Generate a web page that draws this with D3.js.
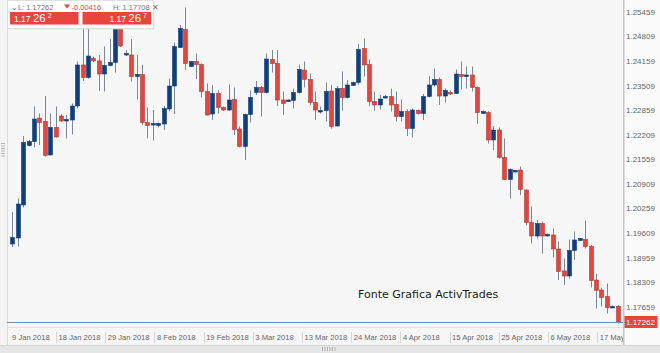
<!DOCTYPE html>
<html lang="en">

<head>
    <meta charset="UTF-8">
    <title>EURUSD daily</title>
    <style>
        body {
            margin: 0;
            background: #fff;
        }

        text {
            font-family: "Liberation Sans", Arial, sans-serif;
        }

        .axis-label {
            font-size: 8px;
            fill: #666;
        }

        .date-label {
            font-size: 7.6px;
            fill: #666;
        }
    </style>
</head>

<body>
    <svg width="660" height="353"></svg>
    <script src="https://d3js.org/d3.v7.min.js"></script>
    <script>
        // daily candles, 9 Jan 2018 -> 17 May 2018
        let open = [
            1.19324, 1.19483, 1.20356, 1.21929, 1.22034, 1.22655, 1.22563, 1.21678, 1.22405, 1.22708,
            1.22590, 1.22603, 1.22973, 1.24058, 1.23727, 1.24229, 1.24164, 1.23819, 1.24045, 1.24124,
            1.25194, 1.24322, 1.24322, 1.23753, 1.23806, 1.22537, 1.22471, 1.22458, 1.22497, 1.22894,
            1.23502, 1.24520, 1.24996, 1.24018, 1.24150, 1.24071, 1.23356, 1.22761, 1.23303, 1.22934,
            1.22867, 1.23145, 1.22365, 1.21902, 1.22748, 1.23330, 1.23463, 1.23330, 1.24203, 1.24097,
            1.23132, 1.23092, 1.23119, 1.23330, 1.23925, 1.23674, 1.23066, 1.22814, 1.22854, 1.23370,
            1.22444, 1.23436, 1.23198, 1.23516, 1.23595, 1.24493, 1.24071, 1.23092, 1.23000, 1.23198,
            1.23224, 1.23013, 1.22695, 1.22827, 1.22378, 1.22854, 1.22774, 1.23224, 1.23529, 1.23674,
            1.23237, 1.23330, 1.23303, 1.23806, 1.23753, 1.23793, 1.23463, 1.22774, 1.22801, 1.22074,
            1.22339, 1.21612, 1.21030, 1.21228, 1.21281, 1.20752, 1.19893, 1.19536, 1.19866, 1.19550,
            1.19563, 1.19192, 1.18611, 1.18478, 1.19153, 1.19417, 1.19444, 1.19258, 1.18372, 1.18108,
            1.17936, 1.17646, 1.17678];

        let high = [
            1.20170, 1.20527, 1.22180, 1.22074, 1.22960, 1.22774, 1.23237, 1.22774, 1.22960, 1.22761,
            1.22735, 1.23039, 1.24150, 1.25141, 1.25115, 1.24282, 1.24322, 1.24546, 1.24745, 1.25406,
            1.25353, 1.24454, 1.24745, 1.24322, 1.24058, 1.22934, 1.22867, 1.22537, 1.22973, 1.23700,
            1.24652, 1.25115, 1.25578, 1.24164, 1.24361, 1.24097, 1.23568, 1.23529, 1.23396, 1.22960,
            1.23542, 1.23463, 1.22431, 1.22774, 1.23383, 1.23635, 1.23502, 1.24361, 1.24454, 1.24454,
            1.23356, 1.23145, 1.23436, 1.24071, 1.24150, 1.23832, 1.23356, 1.22960, 1.23595, 1.23529,
            1.23502, 1.23885, 1.23661, 1.23621, 1.24612, 1.24758, 1.24203, 1.23356, 1.23264, 1.23264,
            1.23436, 1.23356, 1.23145, 1.22881, 1.22907, 1.22881, 1.23290, 1.23766, 1.23965, 1.23727,
            1.23436, 1.23383, 1.23939, 1.24150, 1.24018, 1.24018, 1.23489, 1.22854, 1.22841, 1.22444,
            1.22405, 1.22114, 1.21320, 1.21281, 1.21373, 1.20766, 1.20316, 1.19959, 1.19919, 1.19602,
            1.19734, 1.19390, 1.18941, 1.19444, 1.19655, 1.19483, 1.19946, 1.19298, 1.18531, 1.18174,
            1.18279, 1.17699, 1.17708];

        let low = [
            1.19245, 1.19258, 1.20290, 1.21902, 1.21876, 1.21942, 1.21638, 1.21665, 1.22141, 1.22550,
            1.22114, 1.22220, 1.22907, 1.23635, 1.23700, 1.24137, 1.23370, 1.23356, 1.24018, 1.23859,
            1.24533, 1.24295, 1.23621, 1.23145, 1.22471, 1.22114, 1.22061, 1.22405, 1.22339, 1.22827,
            1.22761, 1.24506, 1.23925, 1.24005, 1.23687, 1.23198, 1.22722, 1.22603, 1.22774, 1.22841,
            1.22841, 1.22207, 1.21876, 1.21545, 1.22537, 1.23264, 1.22695, 1.23303, 1.23859, 1.22973,
            1.22735, 1.23079, 1.22907, 1.23303, 1.23463, 1.23000, 1.22603, 1.22774, 1.22563, 1.22378,
            1.22431, 1.22854, 1.23171, 1.23502, 1.23529, 1.23753, 1.22973, 1.22854, 1.22881, 1.23171,
            1.22827, 1.22563, 1.22563, 1.22180, 1.22141, 1.22748, 1.22603, 1.23198, 1.23489, 1.23000,
            1.23066, 1.23264, 1.23290, 1.23410, 1.23436, 1.23356, 1.22497, 1.22761, 1.21981, 1.21810,
            1.21585, 1.21017, 1.20527, 1.21215, 1.20620, 1.19814, 1.19337, 1.19470, 1.19073, 1.19523,
            1.18968, 1.18372, 1.18240, 1.18412, 1.18901, 1.19404, 1.19205, 1.18174, 1.17619, 1.17672,
            1.17486, 1.17632, 1.17215];

        let close = [
            1.19497, 1.20382, 1.22008, 1.22034, 1.22629, 1.22537, 1.21665, 1.22405, 1.22154, 1.22577,
            1.22616, 1.22973, 1.24058, 1.23727, 1.24295, 1.24164, 1.23819, 1.24045, 1.24124, 1.25194,
            1.24559, 1.24361, 1.23753, 1.23806, 1.22537, 1.22458, 1.22510, 1.22510, 1.22907, 1.23502,
            1.24546, 1.25022, 1.24097, 1.24150, 1.24071, 1.23356, 1.22735, 1.23303, 1.22934, 1.22867,
            1.23132, 1.22352, 1.21902, 1.22748, 1.23198, 1.23463, 1.23330, 1.24216, 1.24097, 1.23132,
            1.23039, 1.23132, 1.23330, 1.23939, 1.23674, 1.23066, 1.22867, 1.22854, 1.23356, 1.22431,
            1.23436, 1.23198, 1.23529, 1.23595, 1.24467, 1.24058, 1.23092, 1.23000, 1.23158, 1.23224,
            1.23000, 1.22695, 1.22827, 1.22378, 1.22867, 1.22774, 1.23224, 1.23529, 1.23674, 1.23237,
            1.23383, 1.23290, 1.23819, 1.23753, 1.23793, 1.23463, 1.22801, 1.22827, 1.22074, 1.22339,
            1.21612, 1.21030, 1.21294, 1.21268, 1.20766, 1.19893, 1.19536, 1.19866, 1.19536, 1.19576,
            1.19192, 1.18597, 1.18478, 1.19153, 1.19430, 1.19470, 1.19258, 1.18359, 1.18095, 1.17910,
            1.17646, 1.17672, 1.17262];

        let priceTicks = [1.25459, 1.24809, 1.24159, 1.23509, 1.22859, 1.22209, 1.21559,
            1.20909, 1.20259, 1.19609, 1.18959, 1.18309, 1.17659];

        let dateLabels = ["9 Jan 2018", "18 Jan 2018", "29 Jan 2018", "8 Feb 2018", "19 Feb 2018",
            "3 Mar 2018", "13 Mar 2018", "24 Mar 2018", "4 Apr 2018", "15 Apr 2018",
            "25 Apr 2018", "6 May 2018", "17 May 2018"];
        // candle index where each date label starts
        let dateIdx = [-0.5, 8.1, 17.2, 26.3, 35.4, 44.5, 53.6, 62.7, 71.8, 80.9, 90.0, 99.1, 108.2];

        let lastPrice = 1.17262,
            sessionLow = "1.17262",
            sessionHigh = "1.17708",
            change = "-0.00416";

        let svg = d3.select("svg"),
            width = +svg.attr("width"),
            height = +svg.attr("height");

        let plotL = 7, plotR = 623, plotB = 327;

        let candles = open.map((o, i) => ({ i: i, o: o, h: high[i], l: low[i], c: close[i] }));

        let x = d3.scaleLinear().domain([0, candles.length - 1]).range([12.3, 617.7]);
        let y = d3.scaleLinear().domain([1.25776, 1.17050]).range([0, 330]);

        // backgrounds
        svg.append("rect").attr("width", width).attr("height", height).attr("fill", "#f4f4f4");
        svg.append("rect").attr("x", plotL).attr("y", 0).attr("width", plotR - plotL).attr("height", plotB)
            .attr("fill", "#f7f7f8");
        svg.append("rect").attr("x", plotR).attr("y", 0).attr("width", width - plotR).attr("height", 345)
            .attr("fill", "#fbfbfb");
        svg.append("line").attr("x1", plotL + 0.5).attr("x2", plotL + 0.5).attr("y1", 0).attr("y2", 345)
            .attr("stroke", "#dcdcdc");

        // left grip
        svg.append("g").selectAll("line").data(d3.range(6)).join("line")
            .attr("x1", 1).attr("x2", 5)
            .attr("y1", d => 143.5 + d * 2.5).attr("y2", d => 143.5 + d * 2.5)
            .attr("stroke", "#b5b5b5");

        // date axis band
        svg.append("rect").attr("x", plotL + 1).attr("y", plotB).attr("width", plotR - plotL - 1).attr("height", 18)
            .attr("fill", "#f6f6f6");
        svg.append("line").attr("x1", plotL).attr("x2", plotR).attr("y1", plotB + 0.5).attr("y2", plotB + 0.5)
            .attr("stroke", "#e2e2e2");

        let dg = svg.append("g");
        dateLabels.forEach((lab, k) => {
            let xx = x(dateIdx[k]);
            if (k > 0) {
                dg.append("line").attr("x1", Math.round(xx) + 0.5).attr("x2", Math.round(xx) + 0.5)
                    .attr("y1", 332).attr("y2", 343).attr("stroke", "#d6d6d6");
            }
            dg.append("text").attr("class", "date-label")
                .attr("x", xx + 2.5).attr("y", 339.6).text(lab);
        });
        // mask label overflowing into price axis
        svg.append("rect").attr("x", plotR).attr("y", plotB).attr("width", width - plotR).attr("height", 18)
            .attr("fill", "#fbfbfb");

        // scrollbar
        svg.append("rect").attr("x", 0).attr("y", 345).attr("width", width).attr("height", 8).attr("fill", "#e6e6e6");
        svg.append("line").attr("x1", 0).attr("x2", width).attr("y1", 345.5).attr("y2", 345.5).attr("stroke", "#d2d2d2");
        svg.append("g").selectAll("rect").data(d3.range(6)).join("rect")
            .attr("x", d => 322 + d * 2.5).attr("y", 347).attr("width", 1).attr("height", 4)
            .attr("fill", "#b0b0b0");

        // price axis
        svg.append("line").attr("x1", plotR + 0.75).attr("x2", plotR + 0.75).attr("y1", 0).attr("y2", 345)
            .attr("stroke", "#c6c6c6").attr("stroke-width", 1.5);
        svg.append("g").selectAll("text").data(priceTicks).join("text")
            .attr("class", "axis-label")
            .attr("x", 626).attr("y", d => y(d)).attr("dy", "0.35em")
            .text(d => d3.format(".5f")(d));

        // candles
        svg.append("clipPath").attr("id", "plotclip").append("rect")
            .attr("x", plotL + 1).attr("y", 0).attr("width", plotR - plotL - 1).attr("height", plotB);
        let cg = svg.append("g").attr("clip-path", "url(#plotclip)");

        cg.selectAll("line.wick").data(candles).join("line")
            .attr("class", "wick")
            .attr("x1", d => Math.round(x(d.i)) + 0.5).attr("x2", d => Math.round(x(d.i)) + 0.5)
            .attr("y1", d => y(d.h)).attr("y2", d => y(d.l))
            .attr("stroke", "#7c8896").attr("stroke-width", 1);

        let bw = 4;
        cg.selectAll("rect.body").data(candles).join("rect")
            .attr("class", "body")
            .attr("x", d => Math.round(x(d.i)) + 0.5 - bw / 2)
            .attr("y", d => y(Math.max(d.o, d.c)))
            .attr("width", bw)
            .attr("height", d => Math.max(1.5, Math.abs(y(d.o) - y(d.c))))
            .attr("fill", d => d.c >= d.o ? "#0f3f7d" : "#e4463e")
            .attr("stroke", d => d.c >= d.o ? "#0f3f7d" : "#b23a34")
            .attr("stroke-width", 0.6);

        // last price line + tag
        svg.append("line").attr("x1", plotL).attr("x2", plotR)
            .attr("y1", Math.round(y(lastPrice)) + 0.5).attr("y2", Math.round(y(lastPrice)) + 0.5)
            .attr("stroke", "#6f8faa");
        svg.append("rect").attr("x", plotR + 1.5).attr("y", y(lastPrice) - 6).attr("width", 33).attr("height", 12)
            .attr("fill", "#e4463e");
        svg.append("text").attr("x", plotR + 3).attr("y", y(lastPrice)).attr("dy", "0.35em")
            .attr("font-size", "8px").attr("fill", "#fff").text(d3.format(".5f")(lastPrice));

        // watermark
        svg.append("text").attr("x", 358).attr("y", 298)
            .style("font-family", "'DejaVu Sans', Verdana, sans-serif")
            .attr("font-size", "11px").attr("fill", "#1a1a1a")
            .text("Fonte Grafica ActivTrades");

        // quote box
        let qb = svg.append("g");
        qb.append("rect").attr("x", 8.5).attr("y", 1.5).attr("width", 146).attr("height", 28)
            .attr("fill", "#d8d8d8").attr("opacity", 0.6);
        qb.append("rect").attr("x", 7.5).attr("y", 0.5).attr("width", 146).attr("height", 28)
            .attr("fill", "#fff").attr("stroke", "#e0e0e0");
        qb.append("text").attr("x", 11).attr("y", 9.5).attr("font-size", "7.5px").attr("fill", "#777")
            .text("\u2304");
        qb.append("text").attr("x", 18).attr("y", 9.5).attr("font-size", "7.5px").attr("fill", "#777")
            .text("L: " + sessionLow);
        qb.append("path").attr("d", "M64,4.5 L70,4.5 L67,8.5 Z").attr("fill", "#e4463e");
        qb.append("text").attr("x", 71.5).attr("y", 9.5).attr("font-size", "7.5px").attr("fill", "#e4463e")
            .text(change);
        qb.append("text").attr("x", 113).attr("y", 9.5).attr("font-size", "7.5px").attr("fill", "#777")
            .text("H: " + sessionHigh + " \u2715");

        let buttons = [{ x0: 10, x1: 78.5, big: "26", sup: "2", anchor: "start" },
        { x0: 82.5, x1: 151, big: "26", sup: "7", anchor: "end" }];
        buttons.forEach(b => {
            qb.append("rect").attr("x", b.x0).attr("y", 12).attr("width", b.x1 - b.x0).attr("height", 12.5)
                .attr("fill", "#e8463d");
            let t = qb.append("text").attr("y", 22).attr("fill", "#fff").attr("text-anchor", b.anchor)
                .attr("x", b.anchor === "start" ? b.x0 + 4 : b.x1 - 4);
            t.append("tspan").attr("font-size", "8.5px").text("1.17 ");
            t.append("tspan").attr("font-size", "11.5px").text(b.big);
            t.append("tspan").attr("font-size", "7px").attr("dy", -4).text(" " + b.sup);
        });
    </script>

</body>

</html>
